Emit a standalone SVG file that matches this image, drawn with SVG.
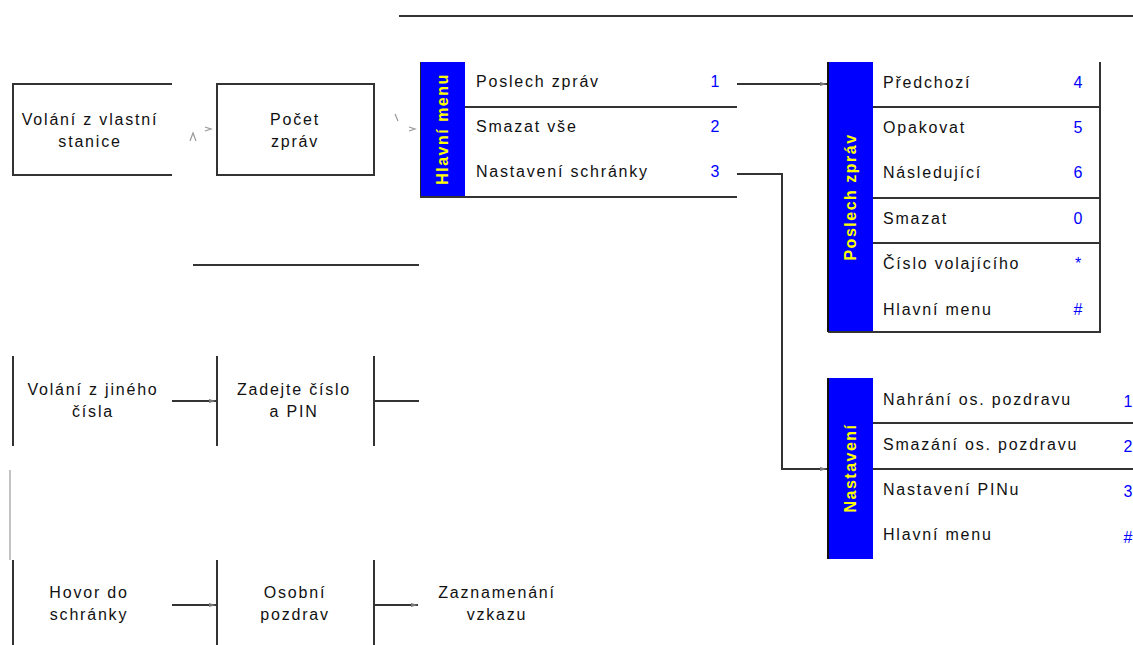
<svg xmlns="http://www.w3.org/2000/svg" width="1133" height="645" viewBox="0 0 1133 645">
<defs>
<marker id="ah" markerUnits="userSpaceOnUse" markerWidth="8" markerHeight="6" refX="7" refY="3" orient="auto">
<path d="M0,1 L7,3 L0,5 z" fill="#777"/>
</marker>
<style>
.ln{stroke:#333;stroke-width:2;fill:none}
.thin{stroke:#888;stroke-width:1;fill:none}
.frag{stroke:#999;stroke-width:1.2;fill:none}
.t{font-family:"Liberation Sans",Arial,sans-serif;font-size:16px;letter-spacing:1.8px;fill:#111}
.c{text-anchor:middle}
.n{font-family:"Liberation Sans",Arial,sans-serif;font-size:16px;fill:#0000ff;text-anchor:middle}
.v{font-family:"Liberation Sans",Arial,sans-serif;font-size:16px;font-weight:bold;letter-spacing:1.5px;fill:#ffff00;text-anchor:middle}
.bar{fill:#0000ff}
</style>
</defs>
<g id="frame">
<line class="ln" x1="399" y1="16" x2="1133" y2="16"/>
<line class="ln" x1="193" y1="265" x2="419" y2="265"/>
</g>
<g id="n-vlastni">
<path class="ln" d="M172,84 H13 V175 H172"/>
<text class="t c" x="90" y="125">Volání z vlastní</text>
<text class="t c" x="90" y="147">stanice</text>
</g>
<g id="n-pocet">
<rect class="ln" x="217" y="84" width="157" height="91"/>
<text class="t c" x="295" y="125">Počet</text>
<text class="t c" x="295" y="147">zpráv</text>
</g>
<g id="n-hlavni">
<rect class="bar" x="420" y="62" width="45" height="135"/>
<line x1="420.5" y1="62" x2="420.5" y2="197" stroke="#222" stroke-width="1"/>
<text class="v" transform="translate(448,129) rotate(-90)">Hlavní menu</text>
<line class="ln" x1="465" y1="107" x2="737" y2="107"/>
<line class="ln" x1="420" y1="197" x2="737" y2="197"/>
<text class="t" x="476" y="87">Poslech zpráv</text><text class="n" x="715" y="87">1</text>
<text class="t" x="476" y="132">Smazat vše</text><text class="n" x="715" y="132">2</text>
<text class="t" x="476" y="177">Nastavení schránky</text><text class="n" x="715" y="177">3</text>
</g>
<g id="n-poslech">
<rect class="bar" x="828" y="62" width="45" height="270"/>
<line x1="828" y1="62" x2="828" y2="332" stroke="#111" stroke-width="2"/>
<text class="v" transform="translate(856,197) rotate(-90)">Poslech zpráv</text>
<path class="ln" d="M1100,62 V332 H828"/>
<line class="ln" x1="873" y1="107" x2="1100" y2="107"/>
<line class="ln" x1="873" y1="198" x2="1100" y2="198"/>
<line class="ln" x1="873" y1="243" x2="1100" y2="243"/>
<text class="t" x="883" y="88">Předchozí</text><text class="n" x="1078" y="88">4</text>
<text class="t" x="883" y="133">Opakovat</text><text class="n" x="1078" y="133">5</text>
<text class="t" x="883" y="178">Následující</text><text class="n" x="1078" y="178">6</text>
<text class="t" x="883" y="224">Smazat</text><text class="n" x="1078" y="224">0</text>
<text class="t" x="883" y="269">Číslo volajícího</text><text class="n" x="1078" y="269">*</text>
<text class="t" x="883" y="315">Hlavní menu</text><text class="n" x="1078" y="315">#</text>
</g>
<g id="n-nastaveni">
<rect class="bar" x="828" y="378" width="45" height="181"/>
<line x1="828" y1="378" x2="828" y2="559" stroke="#111" stroke-width="2"/>
<text class="v" transform="translate(856,468) rotate(-90)">Nastavení</text>
<line class="ln" x1="873" y1="423" x2="1133" y2="423"/>
<line class="ln" x1="873" y1="469" x2="1133" y2="469"/>
<text class="t" x="883" y="405">Nahrání os. pozdravu</text><text class="n" x="1128" y="407">1</text>
<text class="t" x="883" y="450">Smazání os. pozdravu</text><text class="n" x="1128" y="452">2</text>
<text class="t" x="883" y="495">Nastavení PINu</text><text class="n" x="1128" y="497">3</text>
<text class="t" x="883" y="540">Hlavní menu</text><text class="n" x="1128" y="543">#</text>
</g>
<g id="n-jiny">
<line class="ln" x1="13" y1="356" x2="13" y2="446"/>
<text class="t c" x="93" y="395">Volání z jiného</text>
<text class="t c" x="93" y="417">čísla</text>
</g>
<g id="n-zadejte">
<line class="ln" x1="217" y1="356" x2="217" y2="446"/>
<line class="ln" x1="374" y1="356" x2="374" y2="446"/>
<text class="t c" x="294" y="395">Zadejte číslo</text>
<text class="t c" x="294" y="417">a PIN</text>
</g>
<g id="n-hovor">
<line class="thin" x1="10" y1="470" x2="10" y2="560"/>
<line class="ln" x1="13" y1="560" x2="13" y2="645"/>
<text class="t c" x="89" y="598">Hovor do</text>
<text class="t c" x="89" y="620">schránky</text>
</g>
<g id="n-osobni">
<line class="ln" x1="217" y1="560" x2="217" y2="645"/>
<line class="ln" x1="374" y1="560" x2="374" y2="645"/>
<text class="t c" x="295" y="598">Osobní</text>
<text class="t c" x="295" y="620">pozdrav</text>
</g>
<g id="n-zaznam">
<text class="t c" x="497" y="598">Zaznamenání</text>
<text class="t c" x="497" y="620">vzkazu</text>
</g>
<g id="connectors">
<path class="frag" d="M190,141 L193,133 L196,141 M205,127 L211,129 L205,131"/>
<path class="frag" d="M395,114 L398,121 M409,127 L415,129 L409,131"/>
<path class="ln" d="M737,84 H827" marker-end="url(#ah)"/>
<path class="ln" d="M737,174 H782 V469 H827" marker-end="url(#ah)"/>
<path class="ln" d="M172,401 H216" marker-end="url(#ah)"/>
<path class="ln" d="M374,401 H419"/>
<path class="ln" d="M172,605 H216" marker-end="url(#ah)"/>
<path class="ln" d="M374,605 H418" marker-end="url(#ah)"/>
</g>
</svg>
